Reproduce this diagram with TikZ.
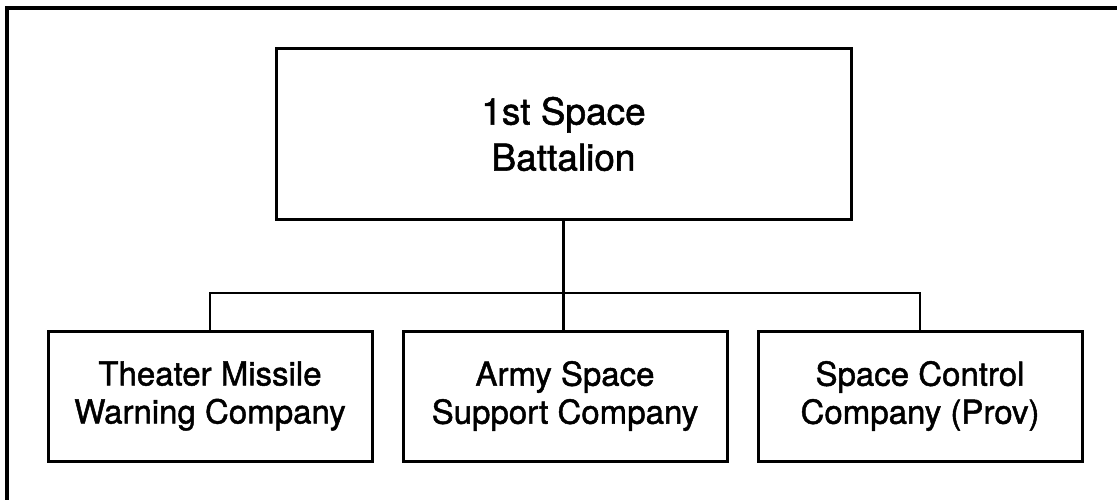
\documentclass[tikz,border=0pt]{standalone}
\usepackage{fontspec}
\setmainfont{TeX Gyre Heros}[FakeBold=1.4]
\usepackage{tikz}

\begin{document}
\begin{tikzpicture}[x=1pt, y=-1pt,
    unit/.style={draw, line width=3pt, align=center, inner sep=0pt},
    hq/.style={unit, minimum width=575pt, minimum height=170pt, font=\fontsize{37}{46}\selectfont},
    company/.style={unit, minimum width=324pt, minimum height=130pt, font=\fontsize{33}{38}\selectfont},
    link/.style={line width=2.6pt}]
    \useasboundingbox (0, 0) rectangle (1117, 500);
    \draw[line width=3.2pt] (7, 500) -- (7, 8) -- (1117, 8);

    \node (battalion) [hq] at (563.5, 134) {1st Space\\Battalion};
    \node (tmw) [company] at (210, 396) {Theater Missile\\Warning Company};
    \node (ass) [company] at (565, 396) {Army Space\\Support Company};
    \node (scc) [company] at (920, 396) {Space Control\\Company (Prov)};
    \coordinate (bus) at (0, 293);

    \draw[link] (battalion.south) -- (battalion.south |- ass.north);
    \draw[link] (tmw.north) -- (tmw.north |- bus) -- (scc.north |- bus) -- (scc.north);
\end{tikzpicture}
\end{document}
